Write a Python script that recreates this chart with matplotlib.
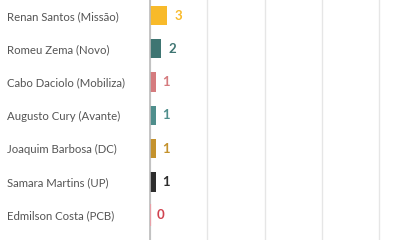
import matplotlib
matplotlib.use('Agg')
import matplotlib.pyplot as plt

# candidates and counts (top to bottom)
names = ['Renan Santos (Missão)', 'Romeu Zema (Novo)', 'Cabo Daciolo (Mobiliza)',
         'Augusto Cury (Avante)', 'Joaquim Barbosa (DC)', 'Samara Martins (UP)',
         'Edmilson Costa (PCB)']
values = [3, 2, 1, 1, 1, 1, 0]
bar_colors = ['#F8BA2A', '#3E7572', '#D57B7E', '#4F8E8C', '#C4922D', '#2D2D2D', '#E8A0A8']
label_colors = ['#F8BA2A', '#3E7572', '#D57B7E', '#4F8E8C', '#C4922D', '#2D2D2D', '#D0424F']
x_ticks = [0, 10, 20, 30, 40]

plt.rcParams['font.family'] = ['Lato', 'DejaVu Sans']

fig = plt.figure(figsize=(4, 2.4), dpi=100)
ax = fig.add_axes([0.375, 0.0, 0.625, 1.0])

pos = list(range(len(names)))
ax.barh(pos, values, height=0.58, color=bar_colors, zorder=3)
# zero-valued bar drawn as a thin stroke over the axis line
for p, v, c in zip(pos, values, bar_colors):
    if v == 0:
        ax.barh(p, v, height=0.66, color=c, edgecolor=c, linewidth=1.6, zorder=5)

for p, v, c in zip(pos, values, label_colors):
    ax.annotate(str(v), (v, p), xytext=(5, 0), textcoords='offset points',
                ha='left', va='center', color=c, fontsize=9.5, fontweight='bold')

ax.set_xlim(0, 43.6)
ax.set_ylim(6.747, -0.467)
ax.set_xticks(x_ticks)
ax.grid(axis='x', color='#E6E6E6', linewidth=1, zorder=0)
ax.tick_params(axis='x', length=0, labelbottom=False)

ax.set_yticks(pos)
ax.set_yticklabels(names, fontsize=8.2, color='#555555', ha='left')
ax.tick_params(axis='y', length=0, pad=103)

for s in ['top', 'right', 'bottom']:
    ax.spines[s].set_visible(False)
ax.spines['left'].set_color('#BBBBBB')
ax.spines['left'].set_linewidth(1.2)
ax.spines['left'].set_zorder(4)

fig.savefig('out.png', dpi=100)
